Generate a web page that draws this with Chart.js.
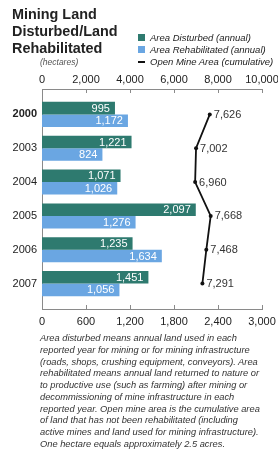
<!DOCTYPE html>
<html>
<head>
<meta charset="utf-8">
<script src="https://cdn.jsdelivr.net/npm/chart.js@4.4.1/dist/chart.umd.min.js"></script>
<style>
  html, body { margin: 0; padding: 0; background: #fff; }
  #wrap { position: relative; width: 278px; height: 450px; overflow: hidden; font-family: "Liberation Sans", Arial, sans-serif; }
  #c { position: absolute; left: 0; top: 0; }
  .title { position: absolute; left: 12px; top: 6px; font-size: 14.4px; font-weight: bold; line-height: 16.8px; color: #222; }
  .unit { position: absolute; left: 40px; top: 57px; font-size: 8.5px; font-style: italic; color: #555; }
  .legend { position: absolute; left: 138px; top: 32px; font-size: 9.5px; font-style: italic; color: #222; line-height: 11.8px; }
  .legend div { position: relative; padding-left: 12px; white-space: nowrap; }
  .sw { position: absolute; left: 0; top: 2px; width: 7px; height: 7px; }
  .dash { position: absolute; left: 0; top: 5px; width: 7px; height: 2px; background: #111; }
  .note { position: absolute; left: 40px; top: 333px; font-size: 9.3px; font-style: italic; color: #333; line-height: 11.75px; white-space: nowrap; }
</style>
</head>
<body>
<div id="wrap">
  <canvas id="c" width="278" height="450"></canvas>
  <div class="title">Mining Land<br>Disturbed/Land<br>Rehabilitated</div>
  <div class="unit">(hectares)</div>
  <div class="legend">
    <div><span class="sw" style="background:#2e7a6f"></span>Area Disturbed (annual)</div>
    <div><span class="sw" style="background:#6aa6e2"></span>Area Rehabilitated (annual)</div>
    <div><span class="dash"></span>Open Mine Area (cumulative)</div>
  </div>
  <div class="note">Area disturbed means annual land used in each<br>reported year for mining or for mining infrastructure<br>(roads, shops, crushing equipment, conveyors). Area<br>rehabilitated means annual land returned to nature or<br>to productive use (such as farming) after mining or<br>decommissioning of mine infrastructure in each<br>reported year. Open mine area is the cumulative area<br>of land that has not been rehabilitated (including<br>active mines and land used for mining infrastructure).<br>One hectare equals approximately 2.5 acres.</div>
</div>
<script>
const years = ["2000", "2003", "2004", "2005", "2006", "2007"];
const areaDisturbed = [995, 1221, 1071, 2097, 1235, 1451];
const areaRehabilitated = [1172, 824, 1026, 1276, 1634, 1056];
const openMineArea = [7626, 7002, 6960, 7668, 7468, 7291];
const bottomTicks = [0, 600, 1200, 1800, 2400, 3000];
const topTicks = [0, 2000, 4000, 6000, 8000, 10000];

const fmt = v => Number(v).toLocaleString('en-US');
const FONT = '"Liberation Sans", Arial, sans-serif';
const AXIS = '#8a8a8a';

const labelPlugin = {
  id: 'labels',
  afterDatasetsDraw(chart) {
    const ctx = chart.ctx;
    ctx.save();
    ctx.font = '11px ' + FONT;
    ctx.textBaseline = 'middle';
    chart.data.datasets.forEach((ds, di) => {
      const meta = chart.getDatasetMeta(di);
      meta.data.forEach((el, i) => {
        const v = ds.data[i].x;
        if (ds.type === 'line') {
          ctx.fillStyle = '#333';
          ctx.textAlign = 'left';
          ctx.fillText(fmt(v), el.x + 4, el.y + 0.5);
        } else {
          ctx.fillStyle = '#fff';
          ctx.textAlign = 'right';
          ctx.fillText(fmt(v), el.x - 5, el.y + 0.5);
        }
      });
    });
    ctx.restore();
  },
  afterDraw(chart) {
    const ctx = chart.ctx;
    const a = chart.chartArea;
    ctx.save();
    ctx.strokeStyle = AXIS;
    ctx.lineWidth = 1;
    const xs = chart.scales.x, x2 = chart.scales.x2;
    bottomTicks.forEach(t => {
      const px = Math.round(xs.getPixelForValue(t)) + 0.5;
      ctx.beginPath(); ctx.moveTo(px, a.bottom); ctx.lineTo(px, a.bottom - 4); ctx.stroke();
    });
    topTicks.forEach(t => {
      const px = Math.round(x2.getPixelForValue(t)) + 0.5;
      ctx.beginPath(); ctx.moveTo(px, a.top); ctx.lineTo(px, a.top + 4); ctx.stroke();
    });
    ctx.restore();
  }
};

const toPts = arr => arr.map((v, i) => ({ x: v, y: i }));

new Chart(document.getElementById('c'), {
  type: 'bar',
  data: {
    datasets: [
      { type: 'line', label: 'Open Mine Area (cumulative)', data: toPts(openMineArea), xAxisID: 'x2', yAxisID: 'y', indexAxis: 'y',
        borderColor: '#111', borderWidth: 1.8, pointRadius: 2, pointBackgroundColor: '#111', pointBorderWidth: 0, tension: 0, order: 0 },
      { label: 'Area Disturbed (annual)', data: toPts(areaDisturbed), backgroundColor: '#2e7a6f', xAxisID: 'x', yAxisID: 'y', order: 1 },
      { label: 'Area Rehabilitated (annual)', data: toPts(areaRehabilitated), backgroundColor: '#6aa6e2', xAxisID: 'x', yAxisID: 'y', order: 1 }
    ]
  },
  options: {
    indexAxis: 'y',
    responsive: false,
    animation: false,
    events: [],
    categoryPercentage: 0.74,
    barPercentage: 1,
    layout: { padding: { left: 0, right: 16, top: 0, bottom: 0 } },
    plugins: { legend: { display: false }, tooltip: { enabled: false } },
    scales: {
      y: {
        type: 'linear', reverse: true, min: -0.75, max: 5.75, offset: false,
        afterBuildTicks: axis => { axis.ticks = years.map((_, i) => ({ value: i })); },
        afterFit: s => { s.width = 42; },
        grid: { display: false, drawTicks: false },
        border: { display: true, color: AXIS, width: 1 },
        ticks: {
          padding: 5,
          color: '#222',
          font: c => ({ family: FONT, size: 11, weight: c.index === 0 ? 'bold' : 'normal' }),
          callback: v => years[v]
        }
      },
      x: {
        type: 'linear', position: 'bottom', min: 0, max: 3000, offset: false,
        afterBuildTicks: axis => { axis.ticks = bottomTicks.map(v => ({ value: v })); },
        afterFit: s => { s.height = 141; s.paddingLeft = 0; s.paddingRight = 0; },
        grid: { display: false, drawTicks: false },
        border: { display: true, color: AXIS, width: 1 },
        ticks: { padding: 6, color: '#222', font: { family: FONT, size: 11 }, maxRotation: 0, autoSkip: false, callback: v => fmt(v) }
      },
      x2: {
        type: 'linear', position: 'top', min: 0, max: 10000, offset: false,
        afterBuildTicks: axis => { axis.ticks = topTicks.map(v => ({ value: v })); },
        afterFit: s => { s.height = 89; s.paddingLeft = 0; s.paddingRight = 0; },
        grid: { display: false, drawTicks: false },
        border: { display: true, color: AXIS, width: 1 },
        ticks: { padding: 2, color: '#222', font: { family: FONT, size: 11 }, maxRotation: 0, autoSkip: false, callback: v => fmt(v) }
      }
    }
  },
  plugins: [labelPlugin]
});
</script>
</body>
</html>
